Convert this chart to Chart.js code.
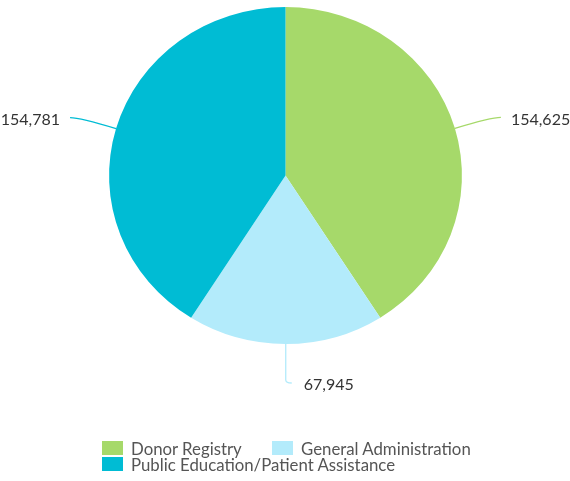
<!DOCTYPE html>
<html>
<head>
<meta charset="utf-8">
<script src="https://cdn.jsdelivr.net/npm/chart.js@4"></script>
<style>
  body { margin: 0; background: #fff; font-family: Lato, "Open Sans", sans-serif; }
  #wrap { position: relative; width: 570px; height: 481px; }
  #grafico { position: absolute; left: 0; top: 0; }
  #legenda {
    position: absolute; left: 102px; top: 441px;
    display: grid; grid-template-columns: 170px auto; row-gap: 2px;
    color: #555; font-size: 16.8px;
  }
  .item { display: flex; align-items: center; height: 14px; white-space: nowrap; }
  .item span { display: inline-block; width: 21px; height: 14px; margin-right: 8px; }
  .item.full { grid-column: 1 / span 2; }
</style>
</head>
<body>
<div id="wrap">
  <canvas id="grafico" width="570" height="481"></canvas>
  <div id="legenda"></div>
</div>
<script>
const categorias = ['Donor Registry', 'General Administration', 'Public Education/Patient Assistance'];
const valores = [154625, 67945, 154781];
const cores = ['#a6d96a', '#b3ebfb', '#00bcd4'];

// pie is a bit wider than tall in the original
const esticarX = 1.047;

const elipse = {
  id: 'elipse',
  beforeDatasetsDraw(chart) {
    const arc = chart.getDatasetMeta(0).data[0];
    const ctx = chart.ctx;
    ctx.save();
    ctx.translate(arc.x, arc.y);
    ctx.scale(esticarX, 1);
    ctx.translate(-arc.x, -arc.y);
  },
  afterDatasetsDraw(chart) {
    const ctx = chart.ctx;
    ctx.restore();

    ctx.save();
    ctx.font = '16px Lato, "Open Sans", sans-serif';
    ctx.fillStyle = '#333';
    ctx.textBaseline = 'middle';
    ctx.lineWidth = 1.3;
    chart.getDatasetMeta(0).data.forEach((arc, i) => {
      const meio = (arc.startAngle + arc.endAngle) / 2;
      const r = arc.outerRadius;
      const bx = arc.x + Math.cos(meio) * r * esticarX;
      const by = arc.y + Math.sin(meio) * r;
      const texto = valores[i].toLocaleString('en-US');
      ctx.strokeStyle = cores[i];
      ctx.beginPath();
      ctx.moveTo(bx, by);
      if (Math.abs(Math.cos(meio)) > 0.5) {
        const lado = Math.cos(meio) > 0 ? 1 : -1;
        const ex = bx + lado * 46, ey = by - 11;
        ctx.quadraticCurveTo(ex - lado * 10, ey, ex, ey);
        ctx.stroke();
        ctx.textAlign = lado > 0 ? 'left' : 'right';
        ctx.fillText(texto, ex + lado * 10, ey + 2);
      } else {
        const ey = by + 39;
        ctx.lineTo(bx, ey - 3);
        ctx.quadraticCurveTo(bx, ey, bx + 6, ey);
        ctx.stroke();
        ctx.textAlign = 'left';
        ctx.fillText(texto, bx + 18, ey + 2);
      }
    });
    ctx.restore();
  }
};

new Chart(document.getElementById('grafico'), {
  type: 'pie',
  data: {
    labels: categorias,
    datasets: [{
      data: valores,
      backgroundColor: cores,
      borderWidth: 0,
      hoverOffset: 0
    }]
  },
  options: {
    responsive: false,
    animation: false,
    events: [],
    layout: { padding: { top: 7, bottom: 137, left: 1, right: 0 } },
    plugins: {
      legend: { display: false },
      tooltip: { enabled: false }
    }
  },
  plugins: [elipse]
});

document.getElementById('legenda').innerHTML = categorias.map((nome, i) => `
  <div class="item${i === 2 ? ' full' : ''}"><span style="background:${cores[i]}"></span>${nome}</div>
`).join('');
</script>
</body>
</html>
